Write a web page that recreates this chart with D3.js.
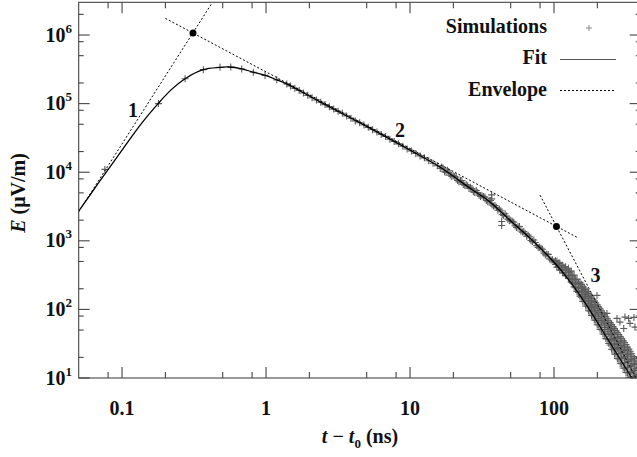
<!DOCTYPE html>
<html><head><meta charset="utf-8">
<script src="https://cdn.jsdelivr.net/npm/d3@7"></script>
<style>
html,body{margin:0;padding:0;background:#fff;}
svg{display:block;}
</style></head><body>
<svg id="chart" width="637" height="457"></svg>
<script>
// ---------------- data ----------------
const xTickValues = [0.1, 1, 10, 100];
const xTickLabels = ["0.1", "1", "10", "100"];
const xMinorTicks = [0.08, 0.2, 0.5, 0.8, 2, 5, 8, 20, 50, 80, 200];
const yTickValues = [1e1, 1e2, 1e3, 1e4, 1e5, 1e6];
const yTickExponents = ["1", "2", "3", "4", "5", "6"];
const yMinorTicks = [20, 50, 80, 200, 500, 800, 2e3, 5e3, 8e3, 2e4, 5e4, 8e4, 2e5, 5e5, 8e5, 2e6];

// Fit curve
const fitT = [0.05, 0.07, 0.1, 0.137, 0.178, 0.22, 0.274, 0.365, 0.48, 0.55, 0.678, 0.81, 1.0, 1.19, 1.39, 2.37, 5, 10, 16.2, 26.1, 35.9, 49.4, 68.1, 98.9, 129, 170, 230, 300, 400];
const fitE = [2700, 7400, 2.1e4, 5.2e4, 1.0e5, 1.6e5, 2.31e5, 3.13e5, 3.38e5, 3.42e5, 3.22e5, 2.88e5, 2.56e5, 2.22e5, 1.94e5, 1.06e5, 4.65e4, 2.1e4, 1.18e4, 5850, 3690, 1995, 1094, 499, 257, 112, 40.3, 16.4, 6.2];

// Simulations: early sparse points, thin band, outliers
const simT = [0.076, 0.179, 0.274, 0.367, 0.479, 0.569, 0.678, 0.816, 0.984, 1.187, 1.393,
  1.479, 1.585, 1.698, 1.820, 1.950, 2.089, 2.239, 2.399, 2.570, 2.754, 2.951, 3.162, 3.388, 3.631, 3.890, 4.169, 4.467, 4.786, 5.129, 5.495, 5.888, 6.310, 6.761, 7.244, 7.762, 8.318, 8.913, 9.550, 10.23, 10.96, 11.75, 12.59, 13.49, 14.45, 15.49,
  16.60, 17.38, 18.20, 19.05, 19.95, 20.89, 21.88, 22.91, 23.99, 25.12, 26.30, 27.54, 28.84, 30.20, 31.62, 33.11, 34.67, 36.31, 38.02, 39.81, 41.69, 43.65, 45.71, 47.86, 50.12, 52.48, 54.95, 57.54, 60.26, 63.10, 66.07, 69.18, 72.44, 75.86, 79.43, 83.18, 87.10, 91.20, 95.50, 100,
  36.9, 36.9, 43.3, 43.3, 198.9, 233, 273.8, 330, 337, 359, 305, 287, 311, 365];
const simE = [1.1e4, 1.0e5, 2.31e5, 3.13e5, 3.39e5, 3.42e5, 3.2e5, 2.87e5, 2.58e5, 2.22e5, 1.94e5,
  1.81e5, 1.67e5, 1.55e5, 1.43e5, 1.32e5, 1.22e5, 1.13e5, 1.045e5, 9.68e4, 8.97e4, 8.32e4, 7.71e4, 7.25e4, 6.62e4, 6.12e4, 5.6e4, 5.26e4, 4.88e4, 4.51e4, 4.17e4, 3.85e4, 3.56e4, 3.33e4, 3.03e4, 2.81e4, 2.59e4, 2.39e4, 2.18e4, 2.04e4, 1.88e4, 1.73e4, 1.62e4, 1.47e4, 1.35e4, 1.245e4,
  1.19e4, 1.016e4, 1.066e4, 9080, 8880, 8500, 7240, 7590, 6470, 6330, 6050, 5170, 5420, 4630, 4540, 4340, 3710, 3870, 3230, 3090, 2900, 2420, 2480, 2070, 1990, 1870, 1560, 1610, 1340, 1290, 1210, 1010, 1030, 852, 809, 752, 623, 634, 525, 499,
  4670, 4080, 1910, 1670, 160, 87.5, 74, 74, 62.5, 76.5, 52.8, 65.3, 77.3, 55.2];
// Simulations between the points above (15–100 ns)
const simMidT = [16.22, 16.98, 17.78, 18.62, 19.50, 20.42, 21.38, 22.39, 23.44, 24.55, 25.70, 26.92, 28.18, 29.51, 30.90, 32.36, 33.88, 35.48, 37.15, 38.90, 40.74, 42.66, 44.67, 46.77, 48.98, 51.29, 53.70, 56.23, 58.88, 61.66, 64.57, 67.61, 70.79, 74.13, 77.62, 81.28, 85.11, 89.13, 93.33, 97.72];
const simMidE = [1.135e4, 1.14e4, 9940, 9950, 8680, 8690, 7580, 7590, 6616, 6626, 5780, 5790, 5056, 5069, 4426, 4438, 3876, 3875, 3337, 3272, 2794, 2740, 2340, 2294, 1960, 1925, 1649, 1621, 1388, 1364, 1168, 1146, 974, 947, 802, 780, 661, 643, 545, 530];
// Late-time spread of the simulations: several values per time
const simLateT = [102.3, 104.7, 107.2, 109.6, 112.2, 114.8, 117.5, 120.2, 123.0, 125.9, 128.8, 131.8, 134.9, 138.0, 141.3, 144.5, 147.9, 151.4, 154.9, 158.5, 162.2, 166.0, 169.8, 173.8, 177.8, 182.0, 186.2, 190.5, 195.0, 199.5, 204.2, 208.9, 213.8, 218.8, 223.9, 229.1, 234.4, 239.9, 245.5, 251.2, 257.0, 263.0, 269.2, 275.4, 281.8, 288.4, 295.1, 302.0, 309.0, 316.2, 323.6, 331.1, 338.8, 346.7, 354.8, 363.1, 371.5, 380.2, 389.0, 398.1];
const simLateE = [
  [454, 510], [414, 464, 509], [413, 474], [376, 437, 473], [375, 441], [342, 402, 440], [341, 410], [311, 374, 419], [310, 382], [282, 348, 399],
  [282, 317, 360], [250, 310, 361], [242, 274, 311], [213, 269, 316], [207, 237, 273], [183, 233, 276], [177, 205, 239], [156, 204, 248], [151, 178, 204, 232],
  [131, 164, 189, 217], [129, 152, 177, 205], [112, 143, 166, 194], [111, 132, 155, 182], [95.6, 123, 145, 170], [94.7, 114, 135, 161], [81.8, 107, 128, 152],
  [81.0, 98.5, 118, 142], [69.9, 92.2, 111, 133], [69.3, 85.3, 104, 125], [59.8, 79.4, 96.4, 117], [59.3, 73.8, 89.7, 109], [51.2, 68.6, 83.6, 102],
  [50.7, 63.9, 78.6, 95.5], [43.8, 59.1, 72.7, 89.4], [43.4, 54.6, 68.0, 83.6], [37.5, 50.9, 63.2, 78.3], [37.1, 47.3, 58.9, 73.2], [32.0, 43.9, 54.8, 68.5],
  [30.3, 36.5, 43.3, 52.7, 64.1], [26.2, 35.7, 42.5, 50.5, 60.0], [25.9, 31.2, 37.5, 45.6, 56.1], [22.4, 30.7, 36.7, 43.9, 52.5], [22.2, 26.7, 32.1, 39.5, 49.1],
  [19.2, 26.4, 31.8, 38.2, 46.0], [19.0, 22.8, 27.8, 34.5, 43.0], [16.4, 22.8, 27.5, 33.3, 40.2], [16.2, 19.5, 23.7, 29.6, 37.6], [14.0, 19.6, 23.8, 29.0, 35.2],
  [13.9, 16.7, 20.3, 25.9, 32.9], [12.0, 16.8, 20.6, 25.2, 30.8], [11.9, 14.3, 17.4, 22.1, 28.2], [10.26, 14.4, 17.6, 21.6, 26.4], [10.2, 12.2, 14.9, 18.9, 24.1],
  [12.3, 15.1, 18.4, 22.6], [10.5, 12.7, 16.2, 20.6], [10.5, 12.9, 15.8, 19.3], [10.9, 13.9, 17.6], [11.0, 13.5, 16.5], [11.3, 14.4], [11.5, 14.1]
];

// Envelope segments (power laws) and their intersections
const env1T = [0.05, 0.42], env1E = [2650, 2.9e6];
const env2T = [0.2, 145], env2E = [1.75e6, 1120];
const env3T = [80, 400], env3E = [4630, 7.4];
const envCornerT = [0.311, 104], envCornerE = [1.07e6, 1620];
const segLabels = ["1", "2", "3"];
const segLabelT = [0.119, 8.52, 194], segLabelE = [7.9e4, 4.04e4, 313];

const legendLabels = ["Simulations", "Fit", "Envelope"];

// ---------------- drawing ----------------
const FONT = "'Liberation Serif'";
const svg = d3.select("#chart");
const L = 78.7, R = 640.7, T = 2.3, B = 378;
const x = d3.scaleLog().domain([0.05, 400]).range([L, R]);
const y = d3.scaleLog().domain([10, 3e6]).range([B, T]);
const axisCol = "#444";
function styleText(sel, size) {
  return sel.style("font-family", FONT).style("font-weight", "bold")
    .style("font-size", size + "px").style("fill", "#111");
}

svg.append("defs").append("clipPath").attr("id", "plotclip")
  .append("rect").attr("x", L).attr("y", T).attr("width", R - L).attr("height", B - T);

const plot = svg.append("g").attr("clip-path", "url(#plotclip)");

// simulations
const cross = "M-3.5,0H3.5M0,-3.5V3.5";
const simPts = simT.map((t, i) => [t, simE[i]]);
simMidT.forEach((t, i) => simPts.push([t, simMidE[i]]));
simLateT.forEach((t, i) => simLateE[i].forEach(e => simPts.push([t, e])));
plot.append("g").selectAll("path").data(simPts).join("path")
  .attr("d", cross)
  .attr("transform", d => `translate(${x(d[0])},${y(d[1])})`)
  .attr("stroke", "#5c5c5c").attr("stroke-width", 1.1).attr("fill", "none");

// fit
const line = d3.line().x(d => x(d[0])).y(d => y(d[1])).curve(d3.curveCatmullRom.alpha(0.5));
plot.append("path").datum(fitT.map((t, i) => [t, fitE[i]]))
  .attr("d", line).attr("fill", "none").attr("stroke", "#000").attr("stroke-width", 1.3);

// envelope
const straight = d3.line().x(d => x(d[0])).y(d => y(d[1]));
[[env1T, env1E], [env2T, env2E], [env3T, env3E]].forEach(([ts, es]) => {
  plot.append("path").datum(ts.map((t, i) => [t, es[i]]))
    .attr("d", straight).attr("fill", "none").attr("stroke", "#000")
    .attr("stroke-width", 1).attr("stroke-dasharray", "2,2");
});
plot.selectAll("circle.corner").data(envCornerT.map((t, i) => [t, envCornerE[i]])).join("circle")
  .attr("class", "corner").attr("cx", d => x(d[0])).attr("cy", d => y(d[1])).attr("r", 3.5).attr("fill", "#000");

// segment labels
styleText(svg.selectAll("text.seg").data(segLabels).join("text").attr("class", "seg"), 20)
  .attr("x", (d, i) => x(segLabelT[i])).attr("y", (d, i) => y(segLabelE[i]) + 6.5)
  .attr("text-anchor", "middle").text(d => d);

// frame
svg.append("rect").attr("x", L).attr("y", T).attr("width", R - L).attr("height", B - T)
  .attr("fill", "none").attr("stroke", axisCol).attr("stroke-width", 1.1);

// ticks
const tg = svg.append("g").attr("stroke", axisCol).attr("stroke-width", 1.1);
function xTicks(vals, len) {
  vals.forEach(v => {
    tg.append("line").attr("x1", x(v)).attr("x2", x(v)).attr("y1", B).attr("y2", B - len);
    tg.append("line").attr("x1", x(v)).attr("x2", x(v)).attr("y1", T).attr("y2", T + len);
  });
}
function yTicks(vals, len) {
  vals.forEach(v => {
    tg.append("line").attr("y1", y(v)).attr("y2", y(v)).attr("x1", L).attr("x2", L + len);
    tg.append("line").attr("y1", y(v)).attr("y2", y(v)).attr("x1", R).attr("x2", R - len);
  });
}
xTicks(xTickValues, 11); xTicks(xMinorTicks, 6);
yTicks(yTickValues, 11); yTicks(yMinorTicks, 5);

// tick labels
styleText(svg.selectAll("text.xt").data(xTickValues).join("text").attr("class", "xt"), 20)
  .attr("x", d => x(d)).attr("y", 415).attr("text-anchor", "middle")
  .text((d, i) => xTickLabels[i]);
const yt = styleText(svg.selectAll("text.yt").data(yTickValues).join("text").attr("class", "yt"), 20)
  .attr("x", 72).attr("y", d => y(d) + 6.5).attr("text-anchor", "end");
yt.append("tspan").text("10");
yt.append("tspan").style("font-size", "13px").attr("dy", -9).text((d, i) => yTickExponents[i]);

// axis titles
const xt = styleText(svg.append("text"), 20).attr("x", 360).attr("y", 443).attr("text-anchor", "middle");
xt.append("tspan").style("font-style", "italic").text("t");
xt.append("tspan").text(" \u2212 ");
xt.append("tspan").style("font-style", "italic").text("t");
xt.append("tspan").style("font-size", "13px").attr("dy", 5).text("0");
xt.append("tspan").attr("dy", -5).text(" (ns)");

const ytl = styleText(svg.append("text"), 20).attr("transform", "translate(25,193) rotate(-90)")
  .attr("text-anchor", "middle");
ytl.append("tspan").style("font-style", "italic").text("E");
ytl.append("tspan").text(" (\u03BCV/m)");

// legend
const lg = svg.append("g");
const legY = [33, 64, 95.5];
styleText(lg.selectAll("text").data(legendLabels).join("text"), 20)
  .attr("x", 547).attr("y", (d, i) => legY[i]).attr("text-anchor", "end").text(d => d);
lg.append("path").attr("d", "M-3,0H3M0,-3V3").attr("transform", "translate(589,28)")
  .attr("stroke", "#888").attr("stroke-width", 1).attr("fill", "none");
lg.append("line").attr("x1", 560).attr("x2", 616).attr("y1", 59.5).attr("y2", 59.5)
  .attr("stroke", "#555").attr("stroke-width", 1.2);
lg.append("line").attr("x1", 560).attr("x2", 614).attr("y1", 90.5).attr("y2", 90.5)
  .attr("stroke", "#000").attr("stroke-width", 1).attr("stroke-dasharray", "2,2");
</script>
</body></html>
